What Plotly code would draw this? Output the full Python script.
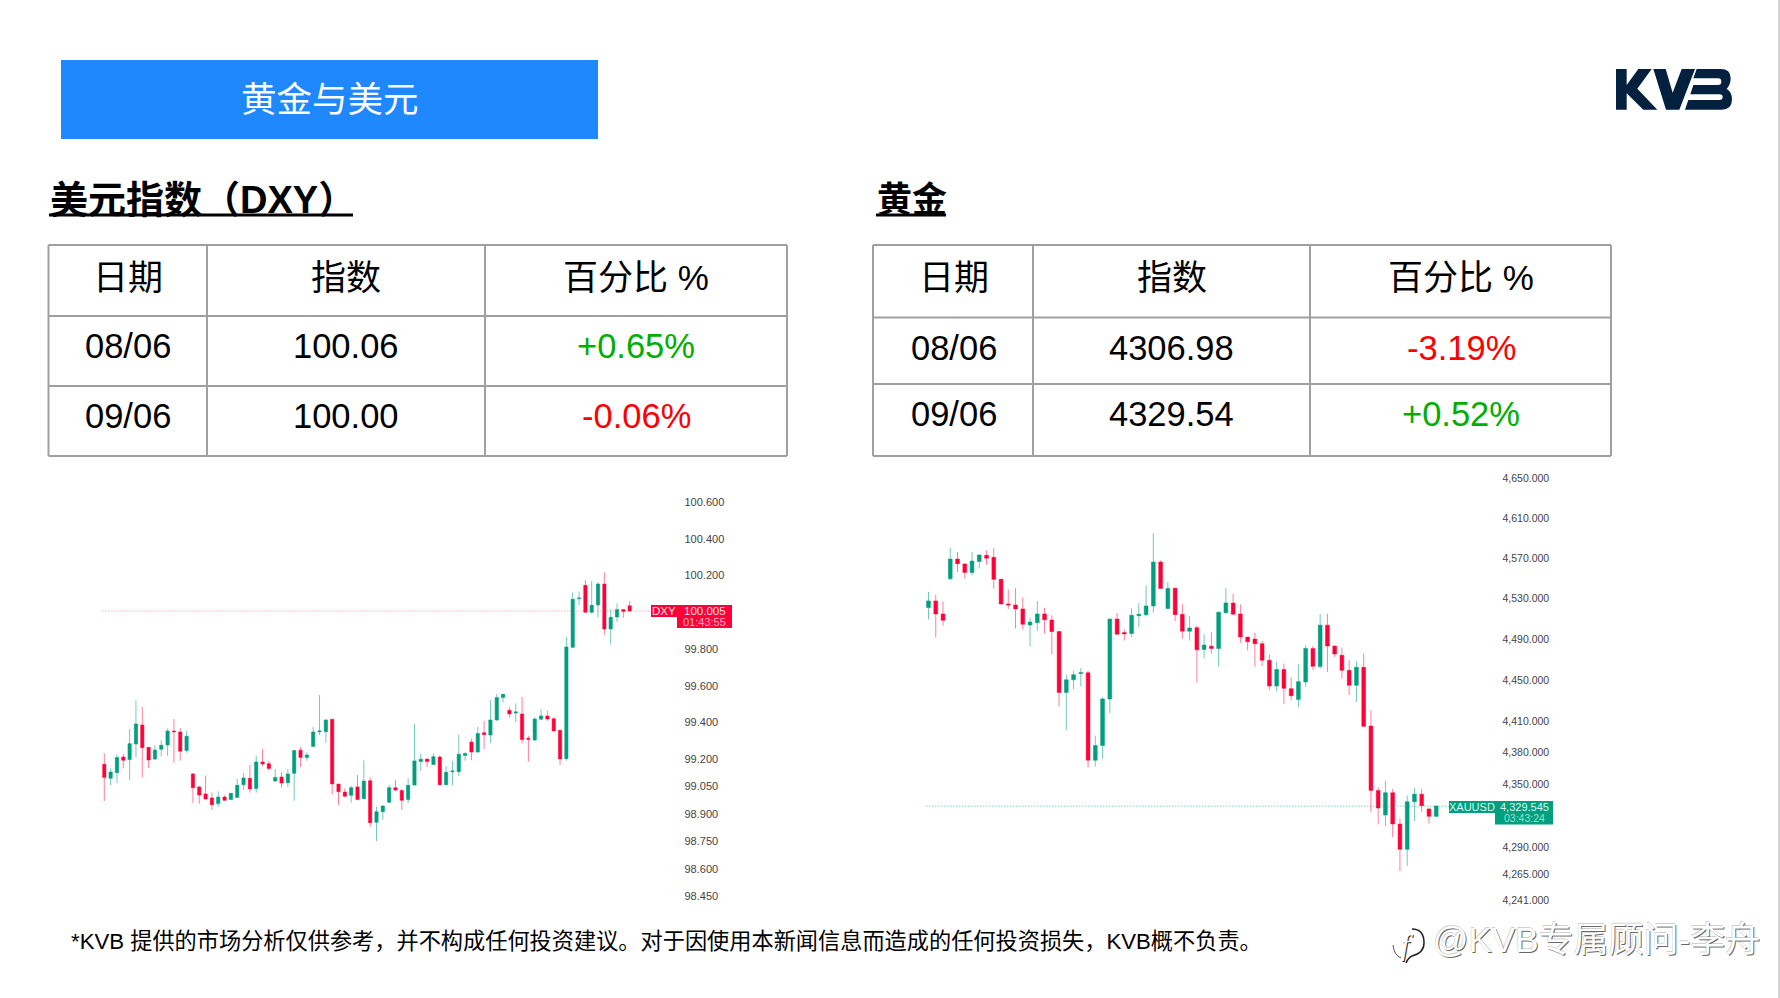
import math
import plotly.graph_objects as go

# ---------- DATA ----------
title_text = "黄金与美元"
dxy_heading = "美元指数（DXY）"
gold_heading = "黄金"
table_header = ["日期", "指数", "百分比 %"]
dxy_rows = [["08/06", "100.06", "+0.65%"], ["09/06", "100.00", "-0.06%"]]
gold_rows = [["08/06", "4306.98", "-3.19%"], ["09/06", "4329.54", "+0.52%"]]
footnote = "*KVB 提供的市场分析仅供参考，并不构成任何投资建议。对于因使用本新闻信息而造成的任何投资损失，KVB概不负责。"
watermark = "@KVB专属顾问-李舟"

dxy_tickvals = [100.6, 100.4, 100.2, 99.8, 99.6, 99.4, 99.2, 99.05, 98.9, 98.75, 98.6, 98.45]
dxy_ticktext = ["100.600", "100.400", "100.200", "99.800", "99.600", "99.400", "99.200", "99.050", "98.900", "98.750", "98.600", "98.450"]
gold_tickvals = [4650, 4610, 4570, 4530, 4490, 4450, 4410, 4380, 4350, 4290, 4265, 4241]
gold_ticktext = ["4,650.000", "4,610.000", "4,570.000", "4,530.000", "4,490.000", "4,450.000", "4,410.000", "4,380.000", "4,350.000", "4,290.000", "4,265.000", "4,241.000"]

dxy_last = 100.007
gold_last = 4329.0

dxy_open = [99.171,99.095,99.126,99.211,99.197,99.282,99.386,99.264,99.200,99.253,99.277,99.353,99.348,99.246,
            99.119,99.048,99.010,98.988,98.957,98.993,98.979,98.991,99.060,99.095,99.039,99.184,99.175,99.080,
            99.102,99.071,99.122,99.248,99.208,99.269,99.349,99.349,99.417,99.064,99.020,99.002,99.048,98.984,
            99.082,98.855,98.913,98.964,99.044,99.029,98.979,99.058,99.186,99.200,99.170,99.211,99.060,99.131,
            99.131,99.219,99.293,99.238,99.344,99.331,99.413,99.535,99.466,99.451,99.446,99.313,99.304,99.417,
            99.435,99.420,99.357,99.202,99.809,100.075,100.147,100.000,100.040,100.154,99.909,99.975,100.015,100.036]
dxy_high = [99.231,99.149,99.226,99.228,99.364,99.520,99.484,99.264,99.275,99.302,99.366,99.418,99.369,99.353,
            99.124,99.055,99.110,99.017,99.024,99.002,99.015,99.091,99.124,99.168,99.219,99.255,99.190,99.146,
            99.128,99.146,99.248,99.266,99.237,99.375,99.548,99.417,99.418,99.064,99.040,99.053,99.113,99.193,
            99.100,98.939,98.948,99.058,99.086,99.035,99.095,99.391,99.230,99.202,99.231,99.219,99.162,99.190,
            99.333,99.237,99.311,99.375,99.408,99.522,99.555,99.555,99.482,99.504,99.538,99.328,99.428,99.473,
            99.464,99.428,99.360,99.866,100.109,100.113,100.176,100.171,100.164,100.218,100.016,100.049,100.016,100.062]
dxy_low = [98.971,99.058,99.068,99.148,99.084,99.209,99.100,99.151,99.195,99.213,99.217,99.180,99.191,99.235,
           98.962,98.957,98.980,98.922,98.941,98.971,98.977,98.989,99.031,99.017,99.017,99.162,99.137,99.075,
           99.044,99.048,98.973,99.157,99.191,99.266,99.331,99.289,99.008,98.950,98.991,98.962,98.977,98.982,
           98.830,98.753,98.868,98.960,99.024,98.922,98.959,99.057,99.135,99.157,99.168,99.055,99.057,99.057,
           99.108,99.191,99.195,99.235,99.255,99.288,99.408,99.509,99.426,99.402,99.286,99.186,99.299,99.410,
           99.408,99.351,99.168,99.191,99.804,100.040,99.998,99.993,99.971,99.878,99.824,99.947,99.971,100.004]
dxy_close = [99.099,99.129,99.209,99.193,99.284,99.391,99.262,99.195,99.249,99.275,99.353,99.349,99.242,99.324,
             99.044,99.004,98.982,98.951,98.993,98.975,99.013,99.057,99.097,99.037,99.184,99.173,99.149,99.100,
             99.069,99.119,99.246,99.208,99.222,99.348,99.353,99.413,99.064,99.022,98.997,99.044,98.979,99.080,
             98.853,98.913,98.944,99.044,99.031,98.975,99.057,99.190,99.199,99.186,99.213,99.060,99.128,99.135,
             99.226,99.230,99.238,99.340,99.333,99.413,99.535,99.553,99.446,99.457,99.306,99.308,99.418,99.435,
             99.418,99.353,99.200,99.811,100.071,100.078,100.000,100.038,100.154,99.909,99.973,100.015,100.004,100.007]

gold_open = [4520.8,4527.4,4514.5,4549.3,4568.9,4563.9,4555.6,4566.6,4572.6,4570.6,4548.7,4524.4,4523.4,4519.5,
             4503.6,4505.9,4514.5,4508.5,4497.2,4437.8,4450.1,4456.3,4456.9,4372.7,4386.6,4431.5,4509.5,4496.2,
             4495.2,4512.8,4513.8,4522.4,4565.9,4519.8,4540.0,4514.1,4497.5,4501.0,4479.6,4482.9,4480.6,4515.8,
             4525.2,4514.5,4491.8,4489.8,4485.3,4469.1,4444.1,4460.0,4441.5,4431.1,4448.0,4480.7,4462.9,4503.5,
             4483.0,4473.9,4459.3,4444.7,4462.2,4405.4,4343.9,4320.7,4341.7,4312.2,4288.4,4333.2,4340.4,4326.3,4319.4]
gold_high = [4536.4,4533.4,4526.8,4579.9,4575.9,4564.9,4576.2,4573.6,4577.6,4579.9,4549.3,4538.7,4540.0,4530.7,
             4510.5,4527.1,4520.5,4513.1,4497.8,4455.0,4458.9,4461.5,4458.8,4396.2,4433.4,4509.5,4515.5,4499.4,
             4520.1,4525.1,4542.4,4594.8,4567.6,4546.0,4540.4,4524.1,4512.5,4503.0,4494.6,4496.5,4516.8,4540.4,
             4534.3,4523.9,4491.8,4496.0,4487.9,4474.6,4467.8,4465.8,4452.2,4465.2,4483.7,4483.0,4514.5,4514.8,
             4483.3,4481.4,4469.1,4468.1,4475.6,4420.4,4346.7,4353.0,4345.4,4317.2,4339.2,4346.4,4345.4,4327.6,4329.5]
gold_low = [4509.2,4491.3,4503.0,4548.0,4556.0,4549.7,4552.7,4559.6,4563.3,4539.4,4523.4,4519.5,4500.1,4499.1,
            4482.6,4497.8,4495.2,4475.1,4424.2,4401.3,4441.0,4443.6,4365.7,4366.7,4374.0,4417.7,4493.9,4488.4,
            4491.6,4501.4,4511.8,4515.8,4539.4,4519.5,4507.5,4490.3,4488.4,4447.5,4470.9,4475.7,4462.8,4514.8,
            4513.2,4486.3,4478.8,4462.6,4463.5,4440.2,4438.9,4426.5,4430.4,4423.6,4443.4,4459.6,4460.9,4457.7,
            4472.3,4451.2,4435.3,4428.5,4404.4,4323.5,4311.9,4310.3,4300.0,4268.0,4273.1,4315.0,4323.5,4312.5,4318.8]
gold_close = [4527.4,4514.5,4508.2,4568.9,4564.3,4555.6,4566.9,4572.9,4569.6,4548.7,4524.4,4523.4,4519.5,4504.3,
              4506.6,4514.5,4508.8,4497.2,4437.8,4450.1,4455.0,4456.9,4372.7,4386.6,4431.5,4509.5,4494.6,4494.9,
              4513.1,4514.1,4522.4,4565.9,4539.7,4539.7,4513.8,4497.5,4500.7,4479.3,4483.9,4480.6,4516.1,4525.4,
              4514.2,4491.8,4487.2,4485.3,4469.1,4444.1,4460.0,4441.8,4434.6,4448.3,4480.7,4463.2,4503.5,4483.0,
              4475.2,4459.3,4444.7,4462.2,4405.1,4343.9,4327.3,4341.7,4312.2,4288.4,4333.2,4340.4,4329.5,4319.4,4329.1]

# ---------- STYLE ----------
GREEN, RED = "#009F7E", "#FF0038"
GREEN_EDGE, RED_EDGE = "rgba(0,159,126,0.55)", "rgba(255,0,56,0.5)"
GRID = "#A0A0A0"
TXT_GREEN, TXT_RED = "#00AE00", "#FF0000"
NAVY = "#03203F"
FONT = "'Liberation Sans', 'Noto Sans CJK SC', sans-serif"
TICK_FONT = "'Liberation Sans', sans-serif"

W, H = 1780, 998
X = lambda p: p / W
Y = lambda p: 1 - p / H

shapes, annos = [], []


def rect(x0, y0, x1, y1, color):
    shapes.append(dict(type="rect", xref="paper", yref="paper", x0=X(x0), x1=X(x1), y0=Y(y0), y1=Y(y1),
                       fillcolor=color, line=dict(width=0), layer="below"))


def seg(x0, y0, x1, y1, color=GRID, w=2):
    shapes.append(dict(type="line", xref="paper", yref="paper", x0=X(x0), x1=X(x1), y0=Y(y0), y1=Y(y1),
                       line=dict(color=color, width=w)))


def text(x, y, s, size, color="#000000", anchor="center", family=FONT, **kw):
    annos.append(dict(xref="paper", yref="paper", x=X(x), y=Y(y), text=s, showarrow=False,
                      xanchor=anchor, yanchor="middle", font=dict(size=size, color=color, family=family, **kw)))


def path(points, color, close=True, line=None):
    """points: list of ('M'|'L'|'Q', px...)"""
    d = ""
    for p in points:
        cmd, vals = p[0], p[1:]
        pairs = [f"{X(vals[i]):.5f},{Y(vals[i + 1]):.5f}" for i in range(0, len(vals), 2)]
        d += cmd + " ".join(pairs) + " "
    if close:
        d += "Z"
    shapes.append(dict(type="path", xref="paper", yref="paper", path=d,
                       fillcolor=color if close else "rgba(0,0,0,0)",
                       line=line or dict(width=0)))


# ---------- HEADER ----------
rect(61, 60, 598, 139, "#2088FF")
text(330, 100, title_text, 35.5, "#FFFFFF")
text(48, 200, f"<b>{dxy_heading}</b>", 38, anchor="left")
seg(49, 215, 353, 215, "#000000", 3)
text(875, 200, f"<b>{gold_heading}</b>", 35, anchor="left")
seg(876, 215, 946, 215, "#000000", 3)


# ---------- TABLES ----------
def table(xs, ys, centers_x, centers_y, rows):
    for xv in xs:
        seg(xv, ys[0], xv, ys[-1])
    for yv in ys:
        seg(xs[0], yv, xs[-1], yv)
    for cx, h in zip(centers_x, table_header):
        text(cx, centers_y[0], h, 35)
    for cy, row in zip(centers_y[1:], rows):
        for j, (cx, v) in enumerate(zip(centers_x, row)):
            col = "#000000"
            if j == 2:
                col = TXT_GREEN if v.startswith("+") else TXT_RED
            text(cx, cy, v, 34.5, col)


table([48.5, 207, 485, 787], [245, 316, 386, 456], [128, 346, 636], [277, 345.5, 415.5], dxy_rows)
table([873, 1033, 1310, 1611], [245, 317.5, 384, 456], [953.5, 1171.5, 1461], [277, 348, 414], gold_rows)

# ---------- FOOTNOTE / WATERMARK ----------
text(69, 941, footnote, 22.2, anchor="left")
text(1431, 939, watermark, 35, "#FFFFFF", anchor="left",
     shadow="1px 1px 0 #6a6a6a, -0.6px -0.6px 0 #d0d0d0")
text(1407, 944, "<i>f</i>", 30, "#FFFFFF", family="'Liberation Serif', serif",
     shadow="1px 1px 0 #222222")
path([("M", 1412, 929), ("Q", 1424, 929, 1424, 943), ("Q", 1424, 953, 1412, 956), ("Q", 1408, 958, 1406, 963)],
     "", close=False, line=dict(color="#222222", width=1.5))
path([("M", 1393, 945), ("Q", 1394, 955, 1401, 958)], "", close=False, line=dict(color="#555555", width=1))

# ---------- LOGO ----------
zx = lambda z: 1380 + z / 3
zy = lambda z: 40 + z / 3


def poly(pts):
    path([("M", zx(pts[0][0]), zy(pts[0][1]))] + [("L", zx(a), zy(b)) for a, b in pts[1:]], NAVY)


poly([(708, 87), (740, 87), (740, 135), (775, 87), (815, 87), (772, 146), (832, 209), (790, 209), (740, 160), (740, 209), (708, 209)])
poly([(820, 87), (857, 87), (878, 158), (905, 87), (945, 87), (898, 209), (858, 209)])
path([("M", zx(950), zy(87)), ("L", zx(1022), zy(87)),
      ("Q", zx(1052), zy(87), zx(1052), zy(115)), ("Q", zx(1052), zy(135), zx(1040), zy(146)),
      ("Q", zx(1056), zy(156), zx(1056), zy(178)), ("Q", zx(1056), zy(209), zx(1025), zy(209)),
      ("L", zx(915), zy(209)), ("L", zx(925), zy(180)), ("L", zx(1018), zy(180)),
      ("Q", zx(1028), zy(180), zx(1028), zy(171)), ("Q", zx(1028), zy(163), zx(1018), zy(163)),
      ("L", zx(931), zy(163)), ("L", zx(940), zy(135)), ("L", zx(1014), zy(135)),
      ("Q", zx(1024), zy(135), zx(1024), zy(125)), ("Q", zx(1024), zy(115), zx(1014), zy(115)),
      ("L", zx(940), zy(115))], NAVY)

# page edge
rect(1778, 0, 1780, 998, "#D4D4D4")

# ---------- PRICE TAGS ----------
rect(651, 605, 677, 617, RED)
rect(677, 605, 732, 628, RED)
text(664, 611, "DXY", 11.5, "#FFE6EB", family=TICK_FONT)
text(704.5, 611, "100.005", 11.5, "#FFE6EB", family=TICK_FONT)
text(704.5, 621.5, "01:43:55", 11, "#FFB3C4", family=TICK_FONT)

rect(1449, 801, 1495, 813, GREEN)
rect(1495, 801, 1553, 824.5, GREEN)
text(1472, 807, "XAUUSD", 11, "#DFF5F0", family=TICK_FONT)
text(1524, 807, "4,329.545", 11, "#DFF5F0", family=TICK_FONT)
text(1524, 818, "03:43:24", 10.5, "#9FE0D2", family=TICK_FONT)

# ---------- CHARTS ----------
fig = go.Figure()


def candles(o, h, l, c, xa, ya):
    fig.add_trace(go.Candlestick(
        x=list(range(len(o))), open=o, high=h, low=l, close=c, xaxis=xa, yaxis=ya, whiskerwidth=0,
        increasing=dict(fillcolor=GREEN, line=dict(color=GREEN_EDGE, width=1)),
        decreasing=dict(fillcolor=RED, line=dict(color=RED_EDGE, width=1)),
        showlegend=False))


def price_line(last, xa, ya, color, x_end):
    fig.add_trace(go.Scatter(x=[-0.3, x_end], y=[last, last], mode="lines", xaxis=xa, yaxis=ya,
                             line=dict(color=color, width=1, dash="1px 2px"), showlegend=False, hoverinfo="skip"))


price_line(dxy_last, "x", "y", "rgba(255,60,100,0.6)", 86.5)
candles(dxy_open, dxy_high, dxy_low, dxy_close, "x", "y")
price_line(gold_last, "x2", "y2", "rgba(0,159,126,0.7)", 72.2)
candles(gold_open, gold_high, gold_low, gold_close, "x2", "y2")

axis_off = dict(visible=False, rangeslider=dict(visible=False), showgrid=False, zeroline=False, fixedrange=True)
tickf = dict(size=11, color="#444444", family=TICK_FONT)
y_top, y_bot = 470, 910

# x: first candle at 104.3 px, 6.33 px per candle; y: 183.4 px per index point
dxy_x0, dxy_step, dxy_l, dxy_r = 104.3, 6.33, 90, 683.5
gold_x0, gold_step, gold_l, gold_r = 928.5, 7.253, 915, 1501.5

fig.update_layout(
    width=W, height=H, margin=dict(l=0, r=0, t=0, b=0), paper_bgcolor="#FFFFFF", plot_bgcolor="rgba(0,0,0,0)",
    shapes=shapes, annotations=annos, showlegend=False, hovermode=False, boxgap=0.26,
    xaxis=dict(domain=[X(dxy_l), X(dxy_r)], anchor="y",
               range=[(dxy_l - dxy_x0) / dxy_step, (dxy_r - dxy_x0) / dxy_step], **axis_off),
    yaxis=dict(domain=[Y(y_bot), Y(y_top)], anchor="x", side="right", range=[98.377, 100.776],
               tickmode="array", tickvals=dxy_tickvals, ticktext=dxy_ticktext, tickfont=tickf,
               showgrid=False, zeroline=False, showline=False, ticks="", fixedrange=True),
    xaxis2=dict(domain=[X(gold_l), X(gold_r)], anchor="y2",
                range=[(gold_l - gold_x0) / gold_step, (gold_r - gold_x0) / gold_step], **axis_off),
    yaxis2=dict(domain=[Y(y_bot), Y(y_top)], anchor="x2", side="right", type="log",
                range=[math.log10(4232.0), math.log10(4658.6)],
                tickmode="array", tickvals=gold_tickvals, ticktext=gold_ticktext,
                tickfont=dict(size=10.5, color="#444444", family=TICK_FONT),
                showgrid=False, zeroline=False, showline=False, ticks="", fixedrange=True),
)

fig.write_html("out.html", config=dict(displayModeBar=False),
               post_script="document.body.style.margin='0';document.body.style.overflow='hidden';")
